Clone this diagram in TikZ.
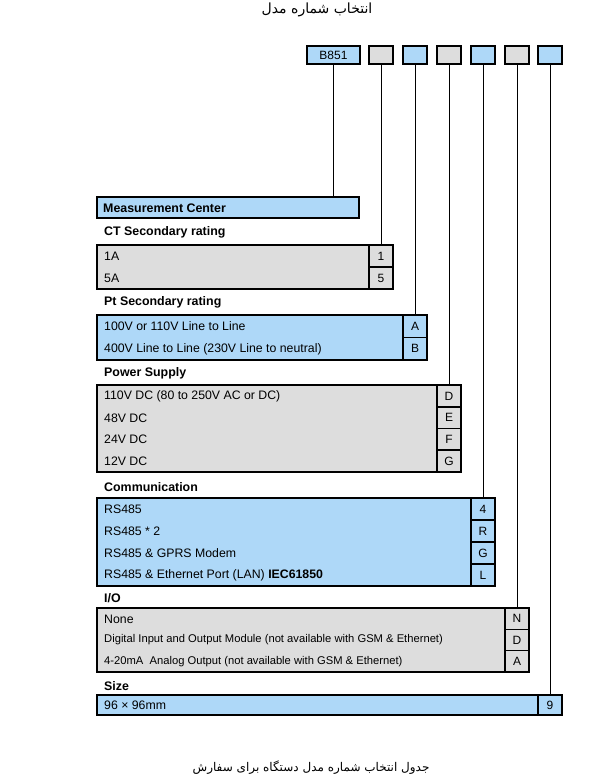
\documentclass[tikz,border=0pt]{standalone}
\usepackage{fontspec}
\setmainfont{Liberation Sans}
\newfontfamily\arabicfont[Script=Arabic]{DejaVu Sans}
\TeXXeTstate=1
\definecolor{boxblue}{RGB}{174,216,248}
\definecolor{boxgray}{RGB}{221,221,221}
\tikzset{
  frame/.style={draw=black, line width=1.6pt, inner sep=0pt, outer sep=0pt, anchor=north west},
  bluebox/.style={frame, fill=boxblue},
  graybox/.style={frame, fill=boxgray},
  lettercell/.style={font=\fontsize{12}{14}\selectfont, minimum width=24pt},
  item/.style={font=\fontsize{12.3}{14}\selectfont, anchor=west, inner sep=0pt},
  smallitem/.style={font=\fontsize{11.2}{13}\selectfont, anchor=west, inner sep=0pt},
  head/.style={font=\bfseries\fontsize{12.4}{14}\selectfont, anchor=west, inner sep=0pt},
  conn/.style={line width=0.9pt},
  hdr/.style={minimum width=24pt, minimum height=18pt}
}
\begin{document}
\begin{tikzpicture}[x=1pt,y=-1pt]
\useasboundingbox (0,0) rectangle (595,783);
\fill[white] (0,0) rectangle (595,783);

% titles
\node[font=\arabicfont\fontsize{14}{16}\selectfont, inner sep=0pt] (title) at (317,10) {\beginR انتخاب شماره مدل\endR};
\node[font=\arabicfont\fontsize{12}{14}\selectfont, inner sep=0pt] (caption) at (311,768) {\beginR جدول انتخاب شماره مدل دستگاه برای سفارش\endR};

% header boxes
\node[bluebox, minimum width=53pt, minimum height=18pt, font=\fontsize{12}{14}\selectfont] (h1) at (307,46) {B851};
\node[graybox, hdr] (h2) at (369,46) {};
\node[bluebox, hdr] (h3) at (403,46) {};
\node[graybox, hdr] (h4) at (437,46) {};
\node[bluebox, hdr] (h5) at (471,46) {};
\node[graybox, hdr] (h6) at (505,46) {};
\node[bluebox, hdr] (h7) at (538,46) {};

% Measurement center
\node[bluebox, minimum width=262pt, minimum height=21pt] (mc) at (97,197) {};
\node[head] (mct) at (103,208) {Measurement Center};

% CT secondary rating
\node[head] (cth) at (104,232) {CT Secondary rating};
\node[graybox, minimum width=272pt, minimum height=44pt] (ct) at (97,245) {};
\node[graybox, lettercell, minimum height=22pt] (ct1) at (369,245) {1};
\node[graybox, lettercell, minimum height=22pt] (ct5) at (369,267) {5};
\node[item] at (104,256) {1A};
\node[item] at (104,278) {5A};

% Pt secondary rating
\node[head] (pth) at (104,302) {Pt Secondary rating};
\node[bluebox, minimum width=306pt, minimum height=45pt] (pt) at (97,315) {};
\node[bluebox, lettercell, minimum height=22.5pt] (ptA) at (403,315) {A};
\node[bluebox, lettercell, minimum height=22.5pt] (ptB) at (403,337.5) {B};
\node[item] at (104,326.5) {100V or 110V Line to Line};
\node[item] at (104,349) {400V Line to Line (230V Line to neutral)};

% Power supply
\node[head] (psh) at (104,373) {Power Supply};
\node[graybox, minimum width=340pt, minimum height=87pt] (ps) at (97,385) {};
\node[graybox, lettercell, minimum height=21.75pt] (psD) at (437,385) {D};
\node[graybox, lettercell, minimum height=21.75pt] (psE) at (437,406.75) {E};
\node[graybox, lettercell, minimum height=21.75pt] (psF) at (437,428.5) {F};
\node[graybox, lettercell, minimum height=21.75pt] (psG) at (437,450.25) {G};
\node[item] at (104,396) {110V DC (80 to 250V AC or DC)};
\node[item] at (104,418) {48V DC};
\node[item] at (104,439.5) {24V DC};
\node[item] at (104,461) {12V DC};

% Communication
\node[head] (coh) at (104,487) {Communication};
\node[bluebox, minimum width=374pt, minimum height=88pt] (co) at (97,498) {};
\node[bluebox, lettercell, minimum height=22pt] (co4) at (471,498) {4};
\node[bluebox, lettercell, minimum height=22pt] (coR) at (471,520) {R};
\node[bluebox, lettercell, minimum height=22pt] (coG) at (471,542) {G};
\node[bluebox, lettercell, minimum height=22pt] (coL) at (471,564) {L};
\node[item] at (104,509) {RS485};
\node[item] at (104,531) {RS485 * 2};
\node[item] at (104,553) {RS485 \& GPRS Modem};
\node[item] at (104,575) {RS485 \& Ethernet Port (LAN) \textbf{IEC61850}};

% I/O
\node[head] (ioh) at (104,598) {I/O};
\node[graybox, minimum width=408pt, minimum height=64pt] (io) at (97,608) {};
\node[graybox, lettercell, minimum height=21.33pt] (ioN) at (505,608) {N};
\node[graybox, lettercell, minimum height=21.33pt] (ioD) at (505,629.33) {D};
\node[graybox, lettercell, minimum height=21.33pt] (ioA) at (505,650.67) {A};
\node[item] at (104,619) {None};
\node[smallitem] at (104,640) {Digital Input and Output Module (not available with GSM \& Ethernet)};
\node[smallitem] at (104,661.5) {4-20mA\ \ Analog Output (not available with GSM \& Ethernet)};

% Size
\node[head] (szh) at (104,686) {Size};
\node[bluebox, minimum width=441pt, minimum height=20pt] (sz) at (97,695) {};
\node[bluebox, lettercell, minimum height=20pt] (sz9) at (538,695) {9};
\node[item] at (104,705) {96 × 96mm};

% connectors
\draw[conn] (h1.south) -- (h1.south |- mc.north);
\draw[conn] (h2.south) -- (ct1.north);
\draw[conn] (h3.south) -- (ptA.north);
\draw[conn] (h4.south) -- (psD.north);
\draw[conn] (h5.south) -- (co4.north);
\draw[conn] (h6.south) -- (ioN.north);
\draw[conn] (h7.south) -- (sz9.north);
\end{tikzpicture}
\end{document}
